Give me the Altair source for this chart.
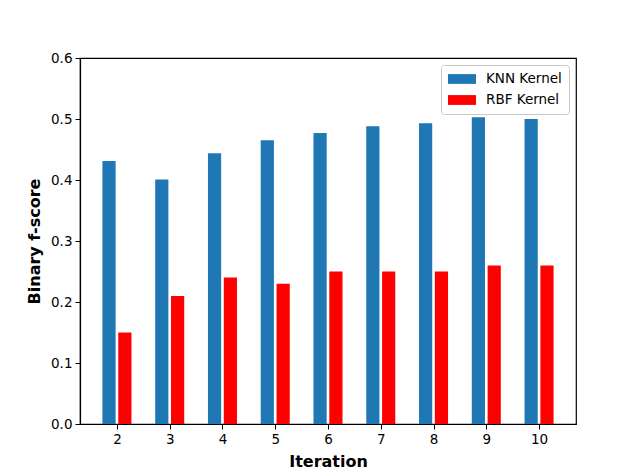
import altair as alt
import pandas as pd

iterations = [2, 3, 4, 5, 6, 7, 8, 9, 10]
knn_scores = [0.431, 0.401, 0.444, 0.465, 0.477, 0.488, 0.493, 0.503, 0.500]
rbf_scores = [0.15, 0.21, 0.24, 0.23, 0.25, 0.25, 0.25, 0.26, 0.26]
series_names = ["KNN Kernel", "RBF Kernel"]
series_colors = ["#1f77b4", "#ff0000"]
y_ticks = [0.0, 0.1, 0.2, 0.3, 0.4, 0.5, 0.6]

rows = []
for it, k, r in zip(iterations, knn_scores, rbf_scores):
    rows.append({"iteration": it, "score": k, "series": series_names[0], "side": -1})
    rows.append({"iteration": it, "score": r, "series": series_names[1], "side": 1})
df = pd.DataFrame(rows)

font = "DejaVu Sans"

chart = (
    alt.Chart(df)
    .transform_calculate(
        x0="datum.iteration + datum.side * 0.15 - 0.125",
        x1="datum.iteration + datum.side * 0.15 + 0.125",
    )
    .mark_bar()
    .encode(
        x=alt.X(
            "x0:Q",
            scale=alt.Scale(domain=[1.3, 10.7], nice=False, zero=False),
            axis=alt.Axis(
                values=iterations,
                format="d",
                title="Iteration",
                titleFontWeight="bold",
                titleFontSize=16,
                titlePadding=8,
            ),
        ),
        x2="x1:Q",
        y=alt.Y(
            "score:Q",
            scale=alt.Scale(domain=[0, 0.6], nice=False),
            axis=alt.Axis(
                values=y_ticks,
                format=".1f",
                title="Binary f-score",
                titleFontWeight="bold",
                titleFontSize=16,
                titlePadding=8,
            ),
        ),
        y2=alt.datum(0),
        color=alt.Color(
            "series:N",
            scale=alt.Scale(domain=series_names, range=series_colors),
            legend=alt.Legend(
                title=None,
                orient="top-right",
                offset=7,
                symbolType="M-2,-0.7H2V0.7H-2Z",
                symbolSize=196,
                symbolOffset=7,
                symbolStrokeWidth=0,
                symbolOpacity=1,
                labelFontSize=13.5,
                labelFont=font,
                labelColor="black",
                strokeColor="#c8c8c8",
                fillColor="white",
                cornerRadius=3,
                padding=7,
                rowPadding=7,
                labelOffset=17,
            ),
        ),
    )
    .properties(
        width=496,
        height=366,
        autosize=alt.AutoSizeParams(type="none"),
        padding={"left": 72, "top": 50, "right": 56, "bottom": 52},
    )
    .configure_view(stroke="black", strokeWidth=1.2)
    .configure_axis(
        grid=False,
        domainColor="black",
        domainWidth=1.2,
        tickColor="black",
        tickSize=5,
        labelColor="black",
        labelFont=font,
        labelFontSize=13.5,
        labelPadding=3,
        labelFlush=False,
        titleFont=font,
        titleColor="black",
    )
)

chart.save("out.html", embed_options={"renderer": "svg", "actions": False})
